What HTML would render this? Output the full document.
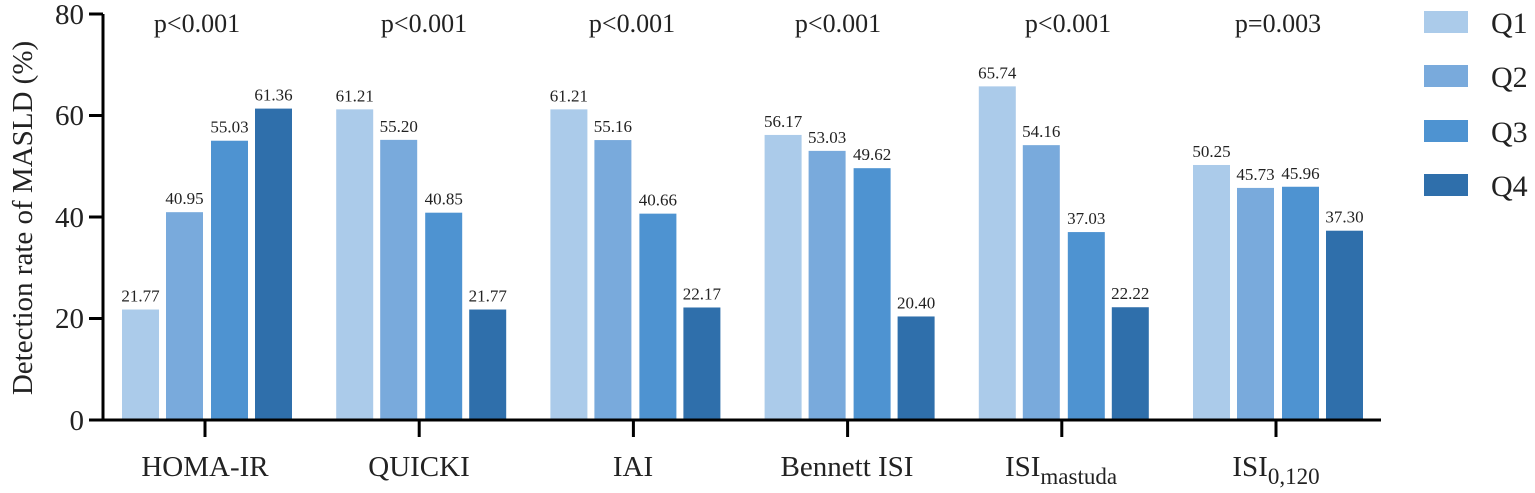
<!DOCTYPE html>
<html><head><meta charset="utf-8"><style>
html,body{margin:0;padding:0;background:#fff;}
svg text{font-family:"Liberation Serif",serif;fill:#222;}
</style></head><body>
<svg width="1535" height="488" viewBox="0 0 1535 488" xmlns="http://www.w3.org/2000/svg">
<g id="bars"></g>
<line x1="103" y1="14" x2="103" y2="421.5" stroke="#000" stroke-width="3"/>
<line x1="102" y1="420" x2="1381" y2="420" stroke="#000" stroke-width="3"/>
<g stroke="#000" stroke-width="3">
<line x1="89" y1="420" x2="103" y2="420"/>
<line x1="89" y1="318.5" x2="103" y2="318.5"/>
<line x1="89" y1="217" x2="103" y2="217"/>
<line x1="89" y1="115.5" x2="103" y2="115.5"/>
<line x1="89" y1="14" x2="103" y2="14"/>
<line x1="205" y1="420" x2="205" y2="437"/>
<line x1="419.2" y1="420" x2="419.2" y2="437"/>
<line x1="633.4" y1="420" x2="633.4" y2="437"/>
<line x1="847.6" y1="420" x2="847.6" y2="437"/>
<line x1="1061.8" y1="420" x2="1061.8" y2="437"/>
<line x1="1276" y1="420" x2="1276" y2="437"/>
</g>
<g font-size="29" text-anchor="end">
<text x="84" y="430">0</text>
<text x="84" y="328">20</text>
<text x="84" y="227">40</text>
<text x="84" y="125">60</text>
<text x="84" y="24">80</text>
</g>
<text transform="translate(32,218) rotate(-90)" font-size="29" text-anchor="middle">Detection rate of MASLD (%)</text>
<g font-size="29" text-anchor="middle">
<text x="205" y="476">HOMA-IR</text>
<text x="419" y="476">QUICKI</text>
<text x="633" y="476">IAI</text>
<text x="847" y="476">Bennett ISI</text>
<text x="1061" y="476">ISI<tspan font-size="23" dy="8">mastuda</tspan></text>
<text x="1276" y="476">ISI<tspan font-size="23" dy="8">0,120</tspan></text>
</g>
<g font-size="26" text-anchor="middle">
<text x="197" y="32">p&lt;0.001</text>
<text x="424" y="32">p&lt;0.001</text>
<text x="632" y="32">p&lt;0.001</text>
<text x="838" y="32">p&lt;0.001</text>
<text x="1068" y="32">p&lt;0.001</text>
<text x="1278" y="32">p=0.003</text>
</g>
<rect x="1424" y="11" width="44" height="22" fill="#abcbea"/>
<rect x="1424" y="65" width="44" height="22" fill="#79aadc"/>
<rect x="1424" y="120" width="44" height="22" fill="#4e93d1"/>
<rect x="1424" y="174" width="44" height="22" fill="#2f6fab"/>
<g font-size="30">
<text x="1491" y="33">Q1</text>
<text x="1491" y="87">Q2</text>
<text x="1491" y="142">Q3</text>
<text x="1491" y="196">Q4</text>
</g>
<g id="labels" font-size="17" text-anchor="middle"></g>
<script>
var data=[[21.77,40.95,55.03,61.36],[61.21,55.20,40.85,21.77],[61.21,55.16,40.66,22.17],[56.17,53.03,49.62,20.40],[65.74,54.16,37.03,22.22],[50.25,45.73,45.96,37.30]];
var cols=["#abcbea","#79aadc","#4e93d1","#2f6fab"];
var offs=[-83,-39,6,50];
var ns="http://www.w3.org/2000/svg";
var gb=document.getElementById("bars"),gl=document.getElementById("labels");
for(var g=0;g<6;g++){var c=205+g*214.2;
for(var q=0;q<4;q++){var v=data[g][q];var y=420-5.075*v;
var r=document.createElementNS(ns,"rect");r.setAttribute("x",c+offs[q]);r.setAttribute("y",y);r.setAttribute("width",37);r.setAttribute("height",420-y);r.setAttribute("fill",cols[q]);gb.appendChild(r);
var t=document.createElementNS(ns,"text");t.setAttribute("x",c+offs[q]+18.5);t.setAttribute("y",y-8);t.textContent=v.toFixed(2);gl.appendChild(t);}}
</script>
</svg>
</body></html>
